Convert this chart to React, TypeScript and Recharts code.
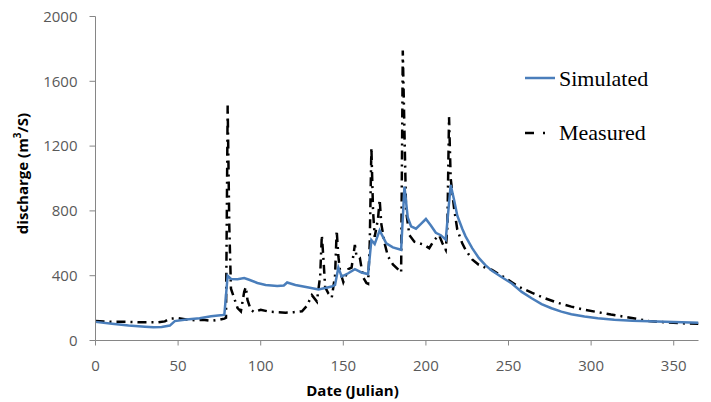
import { LineChart, Line, XAxis, YAxis, Legend } from 'recharts';

// simulated discharge (m3/s) by Julian day
const SIM_DAYS = [
  0, 10, 20, 30, 35, 40, 45, 48, 55, 63, 70, 77, 78, 80, 82, 86, 90, 93, 98, 103, 110, 114, 116, 118,
  121, 129, 135, 143, 145, 147, 149, 153, 157, 161, 165, 167, 169, 172, 174, 176, 180, 185, 187, 189,
  191, 194, 197, 200, 203, 206, 209, 212, 215, 217, 219, 222, 224, 228, 232, 236, 240, 246, 252, 258,
  264, 270, 276, 282, 288, 296, 304, 314, 325, 335, 345, 355, 365,
];
const SIM_Q = [
  115, 103, 92, 85, 82, 84, 92, 120, 130, 137, 150, 158, 160, 400, 380, 378, 385, 375, 355, 343, 337, 340, 358, 352,
  343, 327, 315, 333, 343, 450, 395, 415, 440, 420, 410, 620, 595, 680, 640, 600, 575, 560, 950, 760,
  705, 690, 720, 750, 710, 665, 650, 622, 960, 870, 770, 690, 643, 570, 510, 465, 430, 390, 352, 300,
  261, 225, 199, 178, 162, 148, 137, 128, 122, 119, 116, 113, 110,
];

// measured discharge (m3/s) by Julian day
const MEAS_DAYS = [
  0, 5, 10, 20, 30, 38, 42, 45, 50, 55, 60, 65, 70, 75, 78, 79, 80, 81, 82, 84, 86, 88, 90, 91, 92, 94, 96,
  100, 105, 110, 115, 120, 125, 128, 131, 134, 136, 137, 138, 139, 141, 143, 145, 146, 147, 148, 150, 153,
  155, 157, 158, 160, 162, 164, 165, 166, 167, 168, 169, 171, 172, 173, 175, 177, 180, 183, 185, 186, 187,
  188, 190, 193, 196, 199, 202, 205, 208, 210, 212, 213, 214, 215, 217, 219, 222, 224, 228, 232, 236, 240,
  244, 248, 252, 256, 264, 272, 280, 288, 296, 304, 312, 320, 328, 335, 345, 355, 365,
];
const MEAS_Q = [
  120, 118, 115, 115, 112, 112, 118, 135, 138, 130, 125, 128, 122, 128, 135, 140, 1450, 700, 320, 260, 200, 180, 300, 330, 250, 190, 175,
  190, 178, 175, 172, 175, 180, 215, 280, 240, 400, 650, 500, 330, 290, 265, 400, 680, 520, 430, 360, 440,
  450, 590, 520, 510, 390, 355, 350, 600, 1190, 800, 640, 750, 870, 720, 600, 520, 470, 440, 420, 1790, 1300,
  800, 650, 610, 600, 590, 570, 620, 650, 600, 560, 700, 1380, 1000, 820, 684, 600, 560, 500, 467, 450, 436,
  410, 387, 360, 333, 295, 261, 232, 209, 190, 175, 160, 147, 133, 120, 112, 106, 104,
];

const X_TICKS = [0, 50, 100, 150, 200, 250, 300, 350];
const Y_TICKS = [0, 400, 800, 1200, 1600, 2000];

const simData = SIM_DAYS.map((d, i) => ({ day: d, sim: SIM_Q[i] }));
const measData = MEAS_DAYS.map((d, i) => ({ day: d, meas: MEAS_Q[i] }));

const AXIS = '#868686';
const TICK = { fontSize: 15, fill: '#595959', fontFamily: 'Open Sans' };
const TITLE = { fontSize: 15, fontWeight: 700, fill: '#000', fontFamily: 'Open Sans' };

const YTitle = ({ viewBox }: any) => {
  const cx = 21.5;
  const cy = viewBox.y + viewBox.height / 2 - 5;
  return (
    <text x={cx} y={cy} transform={`rotate(-90 ${cx} ${cy})`} textAnchor="middle" dominantBaseline="central" style={TITLE}>
      discharge (m<tspan dy={-5} fontSize={10}>3</tspan><tspan dy={5}>/S)</tspan>
    </text>
  );
};

const XTitle = ({ viewBox }: any) => (
  <text x={viewBox.x + 257} y={viewBox.y + 49.5} textAnchor="middle" dominantBaseline="central" style={TITLE}>
    Date (Julian)
  </text>
);

const renderLegend = () => (
  <svg width={170} height={95}>
    <line x1={5} y1={18} x2={35} y2={18} stroke="#4a7ebb" strokeWidth={2.5} />
    <text x={39} y={26} fontFamily="Liberation Serif" fontSize={22} fill="#000">Simulated</text>
    <line x1={5} y1={73} x2={14} y2={73} stroke="#000" strokeWidth={2.5} />
    <line x1={23} y1={73} x2={25} y2={73} stroke="#000" strokeWidth={2.5} />
    <text x={39} y={80} fontFamily="Liberation Serif" fontSize={22} fill="#000">Measured</text>
  </svg>
);

export default function App() {
  return (
    <div style={{ margin: '-8px 0 0 -8px' }}>
      <LineChart width={711} height={402} margin={{ top: 16.5, right: 12.5, left: 0, bottom: 0 }}>
        <XAxis
          dataKey="day"
          type="number"
          domain={[0, 365]}
          ticks={X_TICKS}
          height={61.5}
          stroke={AXIS}
          tickSize={5}
          tickMargin={15}
          tick={TICK}
          tickLine={{ stroke: AXIS }}
          allowDataOverflow
          label={<XTitle />}
        />
        <YAxis
          type="number"
          domain={[0, 2000]}
          ticks={Y_TICKS}
          width={95.5}
          stroke={AXIS}
          tickSize={6}
          tickMargin={12}
          tick={TICK}
          tickLine={{ stroke: AXIS }}
          label={<YTitle />}
        />
        <Legend
          layout="vertical"
          align="center"
          verticalAlign="middle"
          content={renderLegend}
          wrapperStyle={{ left: 520, top: 60, width: 170 }}
        />
        <Line
          data={measData}
          dataKey="meas"
          type="linear"
          stroke="#000"
          strokeWidth={2.5}
          strokeDasharray="9 5 2 5"
          dot={false}
          isAnimationActive={false}
        />
        <Line
          data={simData}
          dataKey="sim"
          type="linear"
          stroke="#4a7ebb"
          strokeWidth={2.5}
          dot={false}
          isAnimationActive={false}
        />
      </LineChart>
    </div>
  );
}
